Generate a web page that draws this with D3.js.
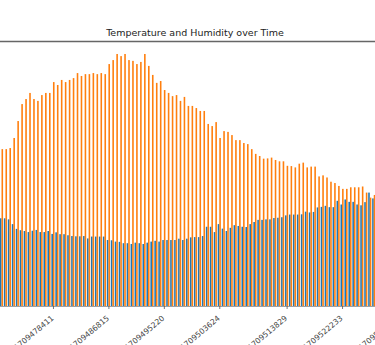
<!DOCTYPE html>
<html><head><meta charset="utf-8">
<script src="https://cdn.jsdelivr.net/npm/d3@7"></script>
<style>
html,body{margin:0;padding:0;background:#fff;overflow:hidden}
svg{display:block;font-family:"DejaVu Sans",sans-serif}
</style></head><body>
<svg id="chart" width="375" height="345"></svg>
<script>
const times = [
1709470610,1709471210,1709471810,1709472411,1709473011,1709473611,1709474211,1709474811,1709475411,1709476011,
1709476611,1709477211,1709477811,1709478411,1709479011,1709479612,1709480212,1709480812,1709481412,1709482013,
1709482613,1709483213,1709483813,1709484414,1709485014,1709485614,1709486215,1709486815,1709487415,1709488016,
1709488616,1709489216,1709489817,1709490417,1709491017,1709491618,1709492218,1709492818,1709493419,1709494019,
1709494620,1709495220,1709495820,1709496421,1709497021,1709497621,1709498221,1709498822,1709499422,1709500022,
1709500623,1709501223,1709501823,1709502424,1709503024,1709503624,1709504224,1709504825,1709505425,1709506025,
1709506626,1709507226,1709507826,1709508427,1709509027,1709509627,1709510228,1709510828,1709511428,1709512029,
1709512629,1709513229,1709513829,1709514429,1709515030,1709515630,1709516230,1709516830,1709517431,1709518031,
1709518631,1709519232,1709519832,1709520432,1709521033,1709521633,1709522233,1709522833,1709523434,1709524034,
1709524634,1709525234,1709525835,1709526435,1709527035];

const temperature = [
59.2,59.2,59.6,63.4,69.8,76.2,78.1,80.4,78.1,77.4,
79.6,80.4,80.4,84.5,83.4,85.3,84.5,85.3,86.0,87.9,
86.8,87.5,87.5,87.9,87.5,87.9,87.5,91.3,92.8,95.1,
94.3,95.1,92.8,92.5,91.3,92.1,95.1,90.6,87.2,84.2,
84.9,81.5,80.4,79.2,79.6,77.4,78.9,75.5,75.5,74.7,
73.6,73.6,68.7,67.9,69.4,63.4,66.0,65.7,64.5,62.6,
62.6,61.5,61.1,59.2,57.4,56.6,55.6,55.7,56.0,55.1,
54.6,54.6,52.9,52.8,52.3,53.7,54.1,52.3,52.6,52.6,
48.9,49.3,48.5,46.9,46.4,45.3,44.2,44.2,44.8,44.8,
44.8,45.1,42.8,40.9,41.9];

const humidity = [
33.1,33.1,32.7,30.9,29.1,28.6,28.3,27.9,28.4,28.7,
27.9,27.9,28.3,27.2,27.8,27.1,27.1,26.7,26.4,26.3,
26.3,26.4,25.5,26.2,26.2,26.2,26.2,24.9,24.8,24.3,
24.2,23.7,23.7,23.4,23.9,23.7,23.4,23.9,24.3,24.6,
24.3,24.9,24.9,24.9,24.9,25.4,24.9,25.4,25.9,26.0,
26.0,26.4,29.9,29.9,27.9,30.9,29.2,28.3,29.5,30.5,
30.2,29.9,29.8,30.9,31.7,32.5,32.5,32.7,32.7,33.2,
33.3,33.5,34.2,34.5,34.5,34.5,34.6,35.6,35.3,35.5,
37.2,37.4,37.8,37.3,37.3,39.7,38.3,40.2,39.3,39.3,
38.3,38.0,39.2,42.8,40.6];

const tickTimes = [1709478411,1709486815,1709495220,1709503624,1709513829,1709522233,1709530637];
const seriesNames = ["humidity","temperature"];
const seriesColors = ["#1f77b4","#ff7f0e"];
const yDomain = [0, 100];

const W = 375, H = 345;
const svg = d3.select("#chart");
const N = times.length;
const left = 1.5, stepPx = 3.96, baseY = 306, topY = 41;

const x = d3.scaleLinear().domain([times[0], times[N-1]]).range([left, left + (N-1)*stepPx]);
const y = d3.scaleLinear().domain(yDomain).range([baseY, topY]);
const step = (x(times[N-1]) - x(times[0])) / (N-1);
const xSub = d3.scaleBand().domain(seriesNames).range([-step*0.4, step*0.4]).padding(0);
const color = d3.scaleOrdinal().domain(seriesNames).range(seriesColors);

const rows = times.map((t,i) => ({t, humidity: humidity[i], temperature: temperature[i]}));

svg.append("rect").attr("width", W).attr("height", H).attr("fill", "#fff");

const g = svg.append("g");
g.selectAll("g.grp").data(rows).join("g")
  .attr("class","grp")
  .attr("transform", d => `translate(${x(d.t)},0)`)
  .selectAll("rect").data(d => seriesNames.map(k => ({k, v: d[k]}))).join("rect")
  .attr("x", d => xSub(d.k))
  .attr("width", xSub.bandwidth())
  .attr("y", d => y(d.v))
  .attr("height", d => y(0) - y(d.v))
  .attr("fill", d => color(d.k));

const ax = svg.append("g").attr("transform", `translate(0,${baseY})`)
  .call(d3.axisBottom(x).tickValues(tickTimes).tickFormat(d => String(d)).tickSize(3).tickSizeOuter(0));
ax.select(".domain").attr("d", `M0,0.5H${W}`).attr("stroke", "#888").attr("stroke-width", 0.8);
ax.selectAll(".tick line").attr("stroke", "#555").attr("stroke-width", 0.8);
ax.selectAll(".tick text")
  .attr("font-size", 7.7).attr("font-family", "DejaVu Sans, sans-serif").attr("fill", "#444")
  .attr("y", 0).attr("dy", "0.35em")
  .attr("text-anchor", "end")
  .attr("transform", "translate(-1,11) rotate(-40)");

svg.append("line").attr("x1", 0).attr("x2", W).attr("y1", 41.5).attr("y2", 41.5)
  .attr("stroke", "#666").attr("stroke-width", 1.5);

svg.append("text").attr("x", 195).attr("y", 36).attr("text-anchor", "middle")
  .attr("font-size", 9.5).attr("fill", "#222").attr("font-family", "DejaVu Sans, sans-serif")
  .text("Temperature and Humidity over Time");
</script>
</body></html>
